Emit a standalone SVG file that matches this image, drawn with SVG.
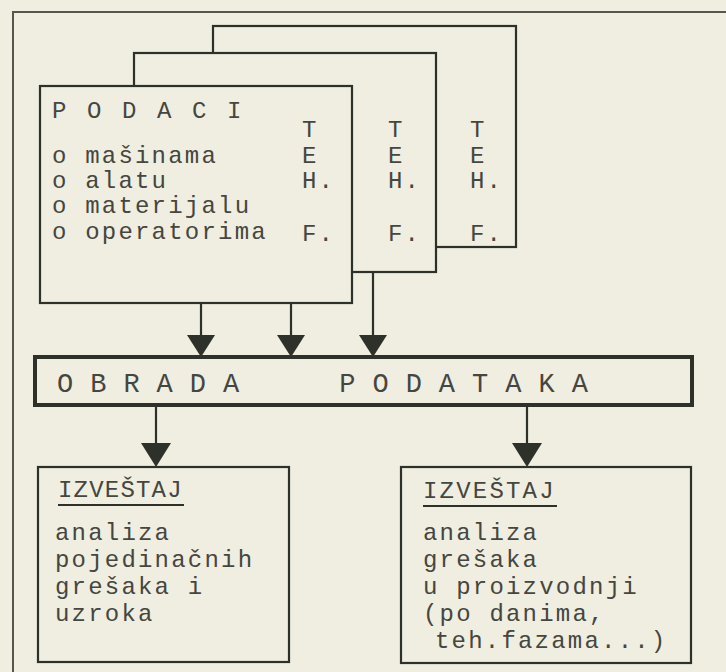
<svg xmlns="http://www.w3.org/2000/svg" width="726" height="672" viewBox="0 0 726 672">
<defs>
<style>
.bg{fill:#efeee0}
.box{fill:#efeee0;stroke:#2e3129;stroke-width:2.2}
.bar{fill:#efeee0;stroke:#2e3129;stroke-width:4}
.ln{stroke:#2e3129;stroke-width:2.2;fill:none}
.frame{stroke:#55574f;stroke-width:2;fill:none}
.head{fill:#2e3129}
text{font-family:"Liberation Mono","DejaVu Sans Mono",monospace;fill:#45463f;font-size:24px;letter-spacing:2.2px}
.big{font-size:27px;letter-spacing:0.4px}
.sp{letter-spacing:3.1px}
</style>
</defs>
<rect class="bg" x="0" y="0" width="726" height="672"/>
<g id="frame">
<path class="frame" d="M13 672 V12 H726"/>
</g>
<g id="data3">
<rect class="box" x="213" y="26" width="303" height="221"/>
<text x="470" y="137">T</text><text x="470" y="163">E</text><text x="470" y="188">H.</text><text x="470" y="241">F.</text>
</g>
<g id="data2">
<rect class="box" x="134" y="53" width="302" height="219"/>
<text x="388" y="137">T</text><text x="388" y="163">E</text><text x="388" y="188">H.</text><text x="388" y="241">F.</text>
</g>
<g id="data1">
<rect class="box" x="40" y="86" width="312" height="217"/>
<text class="sp" x="52" y="118">P O D A C I</text>
<text x="52" y="163">o mašinama</text>
<text x="52" y="188">o alatu</text>
<text x="52" y="213">o materijalu</text>
<text x="52" y="239">o operatorima</text>
<text x="302" y="137">T</text><text x="302" y="163">E</text><text x="302" y="188">H.</text><text x="302" y="241">F.</text>
</g>
<g id="connectors">
<line class="ln" x1="201" y1="303" x2="201" y2="340"/>
<line class="ln" x1="291" y1="303" x2="291" y2="340"/>
<line class="ln" x1="373" y1="272" x2="373" y2="340"/>
<polygon class="head" points="187,335 215,335 201,357"/>
<polygon class="head" points="277,335 305,335 291,357"/>
<polygon class="head" points="359,335 387,335 373,357"/>
<line class="ln" x1="156" y1="405" x2="156" y2="446"/>
<line class="ln" x1="527" y1="405" x2="527" y2="446"/>
<polygon class="head" points="141,443 171,443 156,467"/>
<polygon class="head" points="512,443 542,443 527,467"/>
</g>
<g id="processing">
<rect class="bar" x="35" y="357" width="657" height="48"/>
<text class="big" x="57" y="392" xml:space="preserve">O B R A D A      P O D A T A K A</text>
</g>
<g id="report1">
<rect class="box" x="38" y="467" width="251" height="195"/>
<text x="58" y="497" style="letter-spacing:1.2px">IZVEŠTAJ</text>
<line class="ln" x1="58" y1="505" x2="184" y2="505"/>
<text x="55" y="540">analiza</text>
<text x="55" y="567">pojedinačnih</text>
<text x="55" y="594">grešaka i</text>
<text x="55" y="621">uzroka</text>
</g>
<g id="report2">
<rect class="box" x="401" y="467" width="290" height="196"/>
<text x="423" y="498">IZVEŠTAJ</text>
<line class="ln" x1="423" y1="506" x2="557" y2="506"/>
<text x="423" y="540">analiza</text>
<text x="423" y="567">grešaka</text>
<text x="423" y="594">u proizvodnji</text>
<text x="423" y="621">(po danima,</text>
<text x="435" y="648">teh.fazama...)</text>
</g>
</svg>
